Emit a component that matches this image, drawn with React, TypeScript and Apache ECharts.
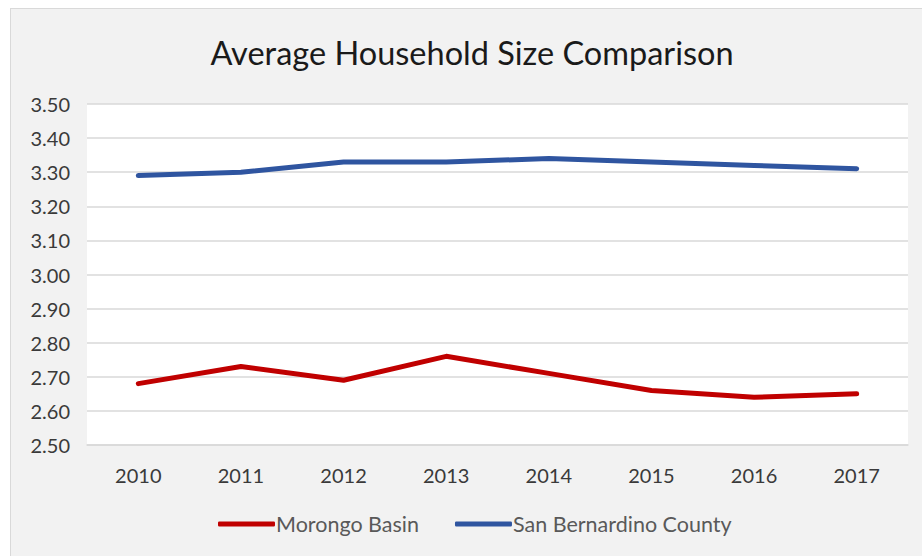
import React, { useEffect, useRef } from "react";
import * as echarts from "echarts";

const years = ["2010", "2011", "2012", "2013", "2014", "2015", "2016", "2017"];
const morongoBasin = [2.68, 2.73, 2.69, 2.76, 2.71, 2.66, 2.64, 2.65];
const sanBernardino = [3.29, 3.30, 3.33, 3.33, 3.34, 3.33, 3.32, 3.31];
const titleText = "Average Household Size Comparison";

const FONT = "Lato, 'Open Sans', sans-serif";

export default function App() {
  const ref = useRef<HTMLDivElement>(null);
  useEffect(() => {
    if (!ref.current) return;
    const chart = echarts.init(ref.current, undefined, { renderer: "svg" });
    chart.setOption({
      animation: false,
      backgroundColor: "transparent",
      textStyle: { fontFamily: FONT },
      title: {
        text: titleText,
        left: 472,
        textAlign: "center",
        top: 36,
        padding: 0,
        textStyle: { fontFamily: FONT, fontSize: 32.5, fontWeight: "normal", color: "#1a1a1a" },
      },
      legend: {
        left: 218,
        top: 513,
        padding: 0,
        itemWidth: 57,
        itemHeight: 5,
        itemGap: 36,
        icon: "roundRect",
        textStyle: { fontFamily: FONT, fontSize: 21.5, color: "#595959", padding: [0, 0, 0, -4] },
        data: ["Morongo Basin", "San Bernardino County"],
      },
      grid: {
        left: 87,
        right: 14,
        top: 104,
        bottom: 111,
        show: true,
        backgroundColor: "#ffffff",
        borderWidth: 0,
        containLabel: false,
      },
      xAxis: {
        type: "category",
        data: years,
        boundaryGap: true,
        axisLine: { show: true, lineStyle: { color: "#d9d9d9", width: 1.5 } },
        axisTick: { show: false },
        axisLabel: { fontFamily: FONT, fontSize: 20, color: "#3a3a3a", margin: 20 },
      },
      yAxis: {
        type: "value",
        min: 2.5,
        max: 3.5,
        interval: 0.1,
        axisLine: { show: false },
        axisTick: { show: false },
        splitLine: { show: true, lineStyle: { color: "#d9d9d9", width: 1.5 } },
        axisLabel: {
          fontFamily: FONT,
          fontSize: 20,
          color: "#3a3a3a",
          margin: 17,
          formatter: (v: number) => v.toFixed(2),
        },
      },
      series: [
        {
          name: "Morongo Basin",
          type: "line",
          data: morongoBasin,
          symbol: "none",
          showSymbol: false,
          color: "#C00000",
          lineStyle: { color: "#C00000", width: 5, cap: "round", join: "round" },
        },
        {
          name: "San Bernardino County",
          type: "line",
          data: sanBernardino,
          symbol: "none",
          showSymbol: false,
          color: "#2F55A0",
          lineStyle: { color: "#2F55A0", width: 5, cap: "round", join: "round" },
        },
      ],
    });
    return () => chart.dispose();
  }, []);

  return (
    <div style={{ position: "fixed", left: 0, top: 0, width: 922, height: 556, background: "#ffffff", overflow: "hidden" }}>
      <div
        style={{
          position: "absolute",
          left: 10,
          top: 8,
          width: 930,
          height: 570,
          background: "#f2f2f2",
          border: "1.5px solid #d9d9d9",
          boxSizing: "border-box",
        }}
      />
      <div ref={ref} style={{ position: "absolute", left: 0, top: 0, width: 922, height: 556 }} />
    </div>
  );
}
